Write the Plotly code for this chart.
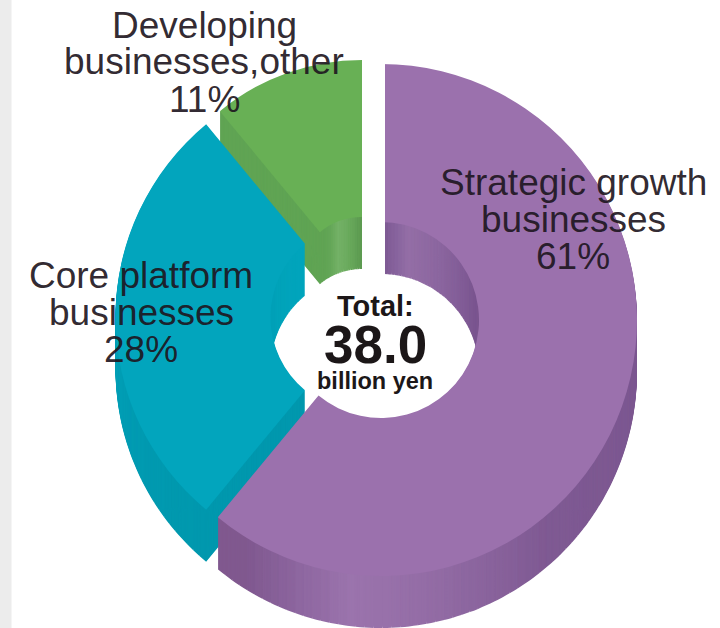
import plotly.graph_objects as go

WIDTH, HEIGHT = 720, 628

# Shares of the 38.0 billion yen total, clockwise from twelve o'clock
categories = ["Strategic growth businesses", "Core platform businesses", "Developing businesses, other"]
shares = [61, 28, 11]
face_colors = ["#9b71ad", "#02a5bd", "#68b055"]

# Label lines for each segment
strategic_lines = ["Strategic growth", "businesses", "61%"]
core_lines = ["Core platform", "businesses", "28%"]
developing_lines = ["Developing", "businesses,other", "11%"]

# Disc geometry per segment: centre x, centre y, radius, hole radius (pixels)
discs = [(381, 320, 256, 98), (365.5, 317, 250, 95), (362, 283, 223, 66)]
DEPTH = 52
LAYER_STEP = 1
BAND_DEGREES = 2

# Wall shading along each segment: (degrees into the segment, colour)
wall_shades = [
    [(0, "#7c5690"), (6, "#83609a"), (16, "#946ea6"), (35, "#8c67a0"), (70, "#7b5690"),
     (140, "#7f5a93"), (170, "#946da6"), (187, "#9b74ad"), (200, "#8c659e"), (212, "#80598f"), (219.6, "#80598f")],
    [(0, "#0098ae"), (20, "#009ab0"), (55, "#01a1b8"), (100.8, "#02a5bd")],
    [(0, "#60a454"), (10, "#62a556"), (19, "#74b267"), (30, "#68a85b"), (39.6, "#5c9a50")],
]

CLEAR = "rgba(0,0,0,0)"
TEXT = "rgba(30,22,32,0.93)"


def blend(stops, at):
    for (a0, c0), (a1, c1) in zip(stops, stops[1:]):
        if a0 <= at <= a1:
            t = (at - a0) / (a1 - a0)
            rgb = [round(int(c0[i:i + 2], 16) * (1 - t) + int(c1[i:i + 2], 16) * t) for i in (1, 3, 5)]
            return "rgb({},{},{})".format(*rgb)
    return stops[-1][1]


def domain(cx, cy, r):
    return dict(
        x=[max(0, (cx - r) / WIDTH), min(1, (cx + r) / WIDTH)],
        y=[max(0, 1 - (cy + r) / HEIGHT), min(1, 1 - (cy - r) / HEIGHT)],
    )


def wall_slices(index):
    """Split one segment into shaded bands; the other segments stay see-through."""
    values, colors = [], []
    total = sum(shares)
    for j, share in enumerate(shares):
        if j != index:
            values.append(share)
            colors.append(CLEAR)
            continue
        sweep = share / total * 360
        n = max(1, round(sweep / BAND_DEGREES))
        for k in range(n):
            values.append(share / n)
            colors.append(blend(wall_shades[index], (k + 0.5) * sweep / n))
    return values, colors


fig = go.Figure()

# Painted back to front: green, then teal, then purple on top
for index in (2, 1, 0):
    cx, cy, r, hole = discs[index]
    band_values, band_colors = wall_slices(index)
    for drop in range(DEPTH, 0, -LAYER_STEP):
        fig.add_trace(go.Pie(
            values=band_values, sort=False, direction="clockwise", rotation=0,
            hole=hole / r, domain=domain(cx, cy + drop, r),
            marker=dict(colors=band_colors, line=dict(width=0)),
            textinfo="none", hoverinfo="skip", showlegend=False,
        ))
    fig.add_trace(go.Pie(
        labels=categories, values=shares, sort=False, direction="clockwise", rotation=0,
        hole=hole / r, domain=domain(cx, cy, r),
        marker=dict(colors=[c if j == index else CLEAR for j, c in enumerate(face_colors)], line=dict(width=0)),
        textinfo="none", hoverinfo="label+percent", showlegend=False,
    ))


def text(x, y, line, size, bold=False):
    return dict(
        x=x / WIDTH, y=1 - y / HEIGHT, xref="paper", yref="paper",
        text=f"<b>{line}</b>" if bold else line, showarrow=False,
        xanchor="center", yanchor="middle",
        font=dict(family="Liberation Sans", size=size, color="#1c1718" if bold else TEXT),
    )


annotations = []
for line, y in zip(developing_lines, (25, 62, 99)):
    annotations.append(text(204, y, line, 37))
for line, y in zip(core_lines, (275, 312, 349)):
    annotations.append(text(141, y, line, 37))
for line, y in zip(strategic_lines, (182, 219, 256)):
    annotations.append(text(573, y, line, 37))
annotations.append(text(375, 306, "Total:", 29, True))
annotations.append(text(375, 344, "38.0", 53, True))
annotations.append(text(375, 381, "billion yen", 23.5, True))

fig.update_layout(
    width=WIDTH, height=HEIGHT, autosize=False,
    margin=dict(l=0, r=0, t=0, b=0), paper_bgcolor="white",
    annotations=annotations,
    shapes=[
        # Pale strip down the left edge and the white channel between the top segments
        dict(type="rect", xref="paper", yref="paper", x0=0, x1=11.5 / WIDTH, y0=0, y1=1,
             fillcolor="#ececec", line=dict(width=0), layer="below"),
        dict(type="rect", xref="paper", yref="paper", x0=362 / WIDTH, x1=385 / WIDTH,
             y0=1 - 290 / HEIGHT, y1=1 - 40 / HEIGHT, fillcolor="white", line=dict(width=0), layer="above"),
    ],
)

fig.write_html("out.html")
